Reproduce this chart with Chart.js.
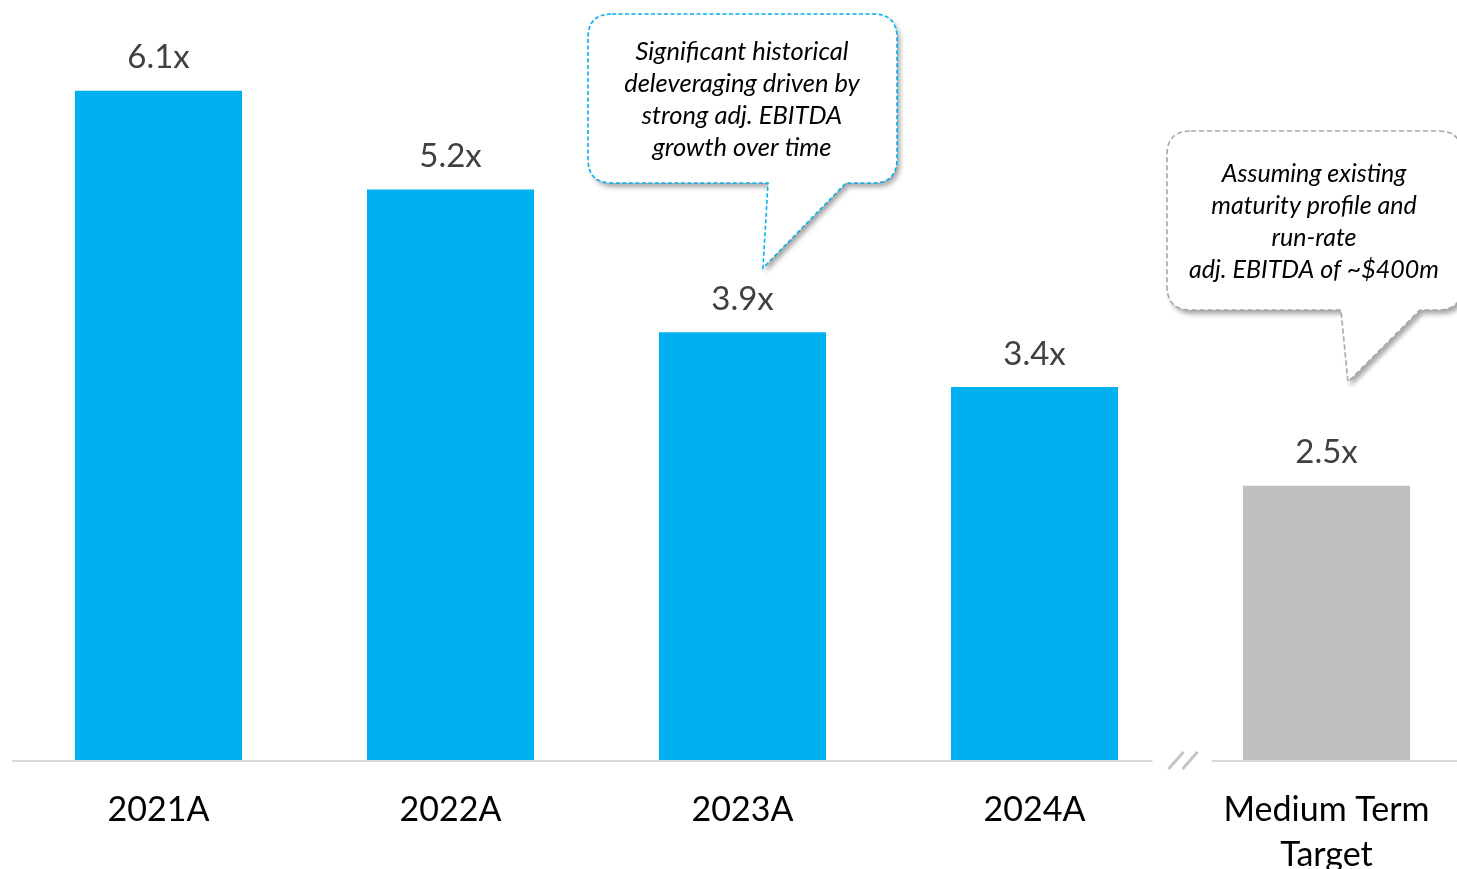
<!DOCTYPE html>
<html>
<head>
<meta charset="utf-8">
<script src="https://cdn.jsdelivr.net/npm/chart.js@4.4.1/dist/chart.umd.min.js"></script>
<style>
  html, body { margin: 0; padding: 0; background: #ffffff; overflow: hidden; }
  #wrap { width: 1457px; height: 869px; overflow: hidden; position: relative; }
  canvas { display: block; }
</style>
</head>
<body>
<div id="wrap"><canvas id="chart" width="1480" height="869"></canvas></div>
<script>
// Net leverage by year and the medium-term target
const categories = ['2021A', '2022A', '2023A', '2024A', ['Medium Term', 'Target']];
const leverage = [6.1, 5.2, 3.9, 3.4, 2.5];
const barColors = ['#00B0F0', '#00B0F0', '#00B0F0', '#00B0F0', '#BFBFBF'];

const calloutHistoric = ['Significant historical', 'deleveraging driven by', 'strong adj. EBITDA', 'growth over time'];
const calloutTarget = ['Assuming existing', 'maturity profile and', 'run-rate', 'adj. EBITDA of ~$400m'];

const FONT = 'Lato, "Open Sans", sans-serif';

// Speech-bubble: rounded box with a pointed tail on its bottom edge
function bubblePath(ctx, b) {
  const r = b.r;
  ctx.beginPath();
  ctx.moveTo(b.x0 + r, b.y0);
  ctx.lineTo(b.x1 - r, b.y0);
  ctx.quadraticCurveTo(b.x1, b.y0, b.x1, b.y0 + r);
  ctx.lineTo(b.x1, b.y1 - r);
  ctx.quadraticCurveTo(b.x1, b.y1, b.x1 - r, b.y1);
  ctx.lineTo(b.tailR, b.y1);
  ctx.lineTo(b.tipX, b.tipY);
  ctx.lineTo(b.tailL, b.y1);
  ctx.lineTo(b.x0 + r, b.y1);
  ctx.quadraticCurveTo(b.x0, b.y1, b.x0, b.y1 - r);
  ctx.lineTo(b.x0, b.y0 + r);
  ctx.quadraticCurveTo(b.x0, b.y0, b.x0 + r, b.y0);
  ctx.closePath();
}

function drawBubble(ctx, b) {
  ctx.save();
  bubblePath(ctx, b);
  ctx.shadowColor = 'rgba(0,0,0,0.35)';
  ctx.shadowBlur = 5;
  ctx.shadowOffsetX = 3;
  ctx.shadowOffsetY = 4;
  ctx.fillStyle = '#ffffff';
  ctx.fill();
  ctx.restore();

  ctx.save();
  bubblePath(ctx, b);
  ctx.setLineDash(b.dash);
  ctx.lineWidth = 1.6;
  ctx.strokeStyle = b.color;
  ctx.stroke();
  ctx.restore();

  ctx.save();
  ctx.fillStyle = '#000000';
  ctx.font = 'italic ' + b.size + 'px ' + FONT;
  ctx.textAlign = 'center';
  ctx.textBaseline = 'middle';
  b.lines.forEach((t, i) => ctx.fillText(t, b.textX, b.textY + i * 32));
  ctx.restore();
}

const decorations = {
  id: 'decorations',
  afterDatasetsDraw(chart) {
    const ctx = chart.ctx;
    const x = chart.scales.x;
    const area = chart.chartArea;
    const meta = chart.getDatasetMeta(0);

    // value labels above bars
    ctx.save();
    ctx.font = '33px ' + FONT;
    ctx.fillStyle = '#404040';
    ctx.textAlign = 'center';
    ctx.textBaseline = 'middle';
    meta.data.forEach((bar, i) => {
      ctx.fillText(leverage[i].toFixed(1) + 'x', bar.x, bar.y - 33);
    });
    ctx.restore();

    // baseline with a break before the target column
    const breakX = (x.getPixelForValue(3) + x.getPixelForValue(4)) / 2;
    const yAxis = area.bottom + 1;
    ctx.save();
    ctx.strokeStyle = '#D9D9D9';
    ctx.lineWidth = 2;
    ctx.beginPath();
    ctx.moveTo(12, yAxis);
    ctx.lineTo(breakX - 28, yAxis);
    ctx.moveTo(breakX + 31, yAxis);
    ctx.lineTo(chart.width, yAxis);
    ctx.stroke();

    ctx.strokeStyle = '#C4C4C4';
    ctx.lineWidth = 3;
    ctx.beginPath();
    ctx.moveTo(breakX - 12, yAxis + 8);
    ctx.lineTo(breakX + 3, yAxis - 9);
    ctx.moveTo(breakX + 2, yAxis + 8);
    ctx.lineTo(breakX + 17, yAxis - 9);
    ctx.stroke();
    ctx.restore();

    drawBubble(ctx, {
      x0: 588, y0: 14, x1: 897, y1: 183, r: 24,
      tailL: 768, tailR: 846, tipX: 763, tipY: 268,
      color: '#00B0F0', dash: [4, 2.5], size: 25.5,
      lines: calloutHistoric, textX: 742, textY: 52
    });
    drawBubble(ctx, {
      x0: 1167, y0: 131, x1: 1462, y1: 310, r: 24,
      tailL: 1341, tailR: 1420, tipX: 1348, tipY: 382,
      color: '#A6A6A6', dash: [5, 3], size: 25,
      lines: calloutTarget, textX: 1314, textY: 174
    });
  }
};

new Chart(document.getElementById('chart'), {
  type: 'bar',
  data: {
    labels: categories,
    datasets: [{
      data: leverage,
      backgroundColor: barColors,
      borderWidth: 0,
      categoryPercentage: 1,
      barPercentage: 0.572
    }]
  },
  options: {
    responsive: false,
    devicePixelRatio: 1,
    animation: false,
    layout: { padding: { left: 12.5, right: 7.5, top: 14, bottom: 0 } },
    plugins: { legend: { display: false }, tooltip: { enabled: false } },
    scales: {
      y: { display: false, min: 0, max: 6.8 },
      x: {
        grid: { display: false, drawTicks: false },
        border: { display: false },
        ticks: {
          color: '#000000',
          padding: 27,
          font: { family: FONT, size: 34, lineHeight: 1.33 }
        },
        afterFit(scale) { scale.height = 109; }
      }
    }
  },
  plugins: [decorations]
});
</script>
</body>
</html>
